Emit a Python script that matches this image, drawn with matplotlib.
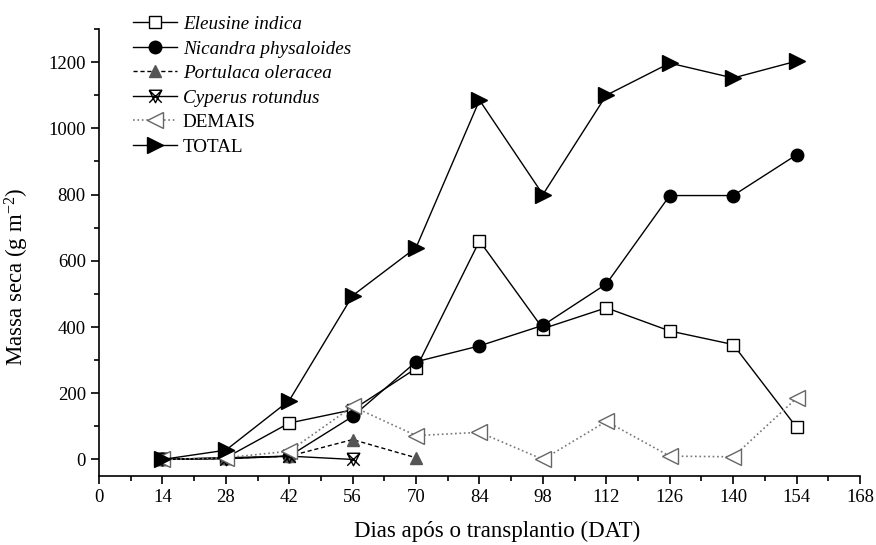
import matplotlib
matplotlib.use("Agg")
import matplotlib.pyplot as plt
from matplotlib.path import Path
from matplotlib.ticker import MultipleLocator

plt.rcParams["font.family"] = ["Liberation Serif", "DejaVu Serif"]
plt.rcParams["mathtext.fontset"] = "custom"
plt.rcParams["mathtext.rm"] = "Liberation Serif"
plt.rcParams["mathtext.it"] = "Liberation Serif:italic"

# Days after transplanting
dat = [14, 28, 42, 56, 70, 84, 98, 112, 126, 140, 154]

eleusine = [0, 5, 110, 150, 275, 660, 395, 458, 388, 347, 97]
nicandra = [0, 5, 10, 130, 295, 343, 405, 530, 797, 797, 920]
portulaca_dat = [14, 28, 42, 56, 70]
portulaca = [0, 3, 10, 60, 5]
cyperus_dat = [14, 28, 42, 56]
cyperus = [0, 2, 10, 0]
demais = [0, 5, 25, 160, 72, 82, 0, 115, 10, 8, 185]
total = [0, 28, 178, 495, 640, 1085, 800, 1100, 1197, 1152, 1203]

x_ticks = [0, 14, 28, 42, 56, 70, 84, 98, 112, 126, 140, 154, 168]
y_ticks = [0, 200, 400, 600, 800, 1000, 1200]

# Crossed marker: an X inside a downward triangle outline
cross_verts = [(-1, 1), (1, -1), (-1, -1), (1, 1),
               (-1, 1), (1, 1), (0, -1), (-1, 1)]
cross_codes = [Path.MOVETO, Path.LINETO, Path.MOVETO, Path.LINETO,
               Path.MOVETO, Path.LINETO, Path.LINETO, Path.LINETO]
cross_marker = Path(cross_verts, cross_codes)

fig = plt.figure(figsize=(8.76, 5.45), dpi=100)
ax = fig.add_axes([99 / 876, 1 - 476 / 545, (860 - 99) / 876, (476 - 29) / 545])

lw = 1.0
ax.plot(dat, eleusine, "-", color="black", lw=lw, marker="s", ms=8.5,
        mfc="white", mec="black", mew=1.0, label="Eleusine indica", zorder=3)
ax.plot(dat, nicandra, "-", color="black", lw=lw, marker="o", ms=9,
        mfc="black", mec="black", label="Nicandra physaloides", zorder=3)
ax.plot(portulaca_dat, portulaca, "--", color="black", lw=lw, dashes=(3, 2),
        marker="^", ms=9, mfc="#555555", mec="#555555",
        label="Portulaca oleracea", zorder=3)
ax.plot(cyperus_dat, cyperus, "-", color="black", lw=lw, marker=cross_marker,
        ms=9, mfc="none", mec="black", mew=1.0, label="Cyperus rotundus",
        zorder=3)
ax.plot(dat, demais, ":", color="#777777", lw=1.2, marker="<", ms=11,
        mfc="white", mec="#666666", mew=1.0, label="DEMAIS", zorder=3)
ax.plot(dat, total, "-", color="black", lw=lw, marker=">", ms=11,
        mfc="black", mec="black", label="TOTAL", zorder=4)

ax.set_xlim(0, 168)
ax.set_ylim(-50, 1300)
ax.set_xticks(x_ticks)
ax.set_yticks(y_ticks)
ax.xaxis.set_minor_locator(MultipleLocator(7))
ax.yaxis.set_minor_locator(MultipleLocator(100))

for side in ("top", "right"):
    ax.spines[side].set_visible(False)
for side in ("left", "bottom"):
    ax.spines[side].set_linewidth(1.2)

ax.tick_params(which="major", direction="out", length=6, width=1.2,
               labelsize=13.5, colors="black")
ax.tick_params(which="minor", direction="out", length=3.5, width=1.2)

ax.set_xlabel("Dias após o transplantio (DAT)", fontsize=16.5)
ax.set_ylabel("Massa seca (g m$^{-2}$)", fontsize=16.5)
ax.xaxis.set_label_coords((497 - 99) / 761, -(521 - 476) / 447)
ax.yaxis.set_label_coords(-(99 - 31) / 761, (476 - 277) / 447)

leg = ax.legend(loc="upper left", bbox_to_anchor=((133 - 99) / 761, 1.03),
                frameon=False, fontsize=13.8, handlelength=2.3,
                handletextpad=0.3, labelspacing=0.37, borderaxespad=0,
                borderpad=0)
for txt in leg.get_texts()[:4]:
    txt.set_fontstyle("italic")

fig.savefig("out.png", dpi=100)
